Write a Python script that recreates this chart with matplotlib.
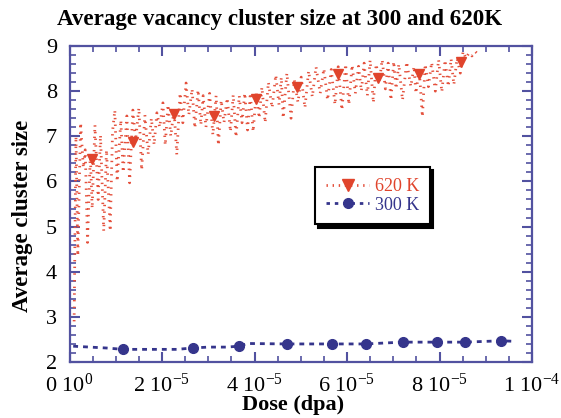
import matplotlib
matplotlib.use("Agg")
import matplotlib.pyplot as plt
import numpy as np
from matplotlib.lines import Line2D
from matplotlib.ticker import MultipleLocator

plt.rcParams['font.family'] = ['Liberation Serif', 'DejaVu Serif']
plt.rcParams['mathtext.fontset'] = 'custom'
plt.rcParams['mathtext.rm'] = 'Liberation Serif'
plt.rcParams['mathtext.it'] = 'Liberation Serif:italic'
plt.rcParams['mathtext.bf'] = 'Liberation Serif:bold'
plt.rcParams['mathtext.default'] = 'rm'
plt.rcParams['lines.scale_dashes'] = False

# ---------------- data (dose in units of 1e-5 dpa) ----------------
# 620 K : noisy trace (alternating local highs / lows)
dose_620 = [0.10, 0.14, 0.18, 0.24, 0.30, 0.34, 0.39, 0.45, 0.49, 0.55,
            0.62, 0.67, 0.74, 0.80, 0.88, 0.93, 0.98, 1.03, 1.11, 1.16,
            1.24, 1.30, 1.37, 1.43, 1.50, 1.56, 1.63, 1.70, 1.77, 1.83,
            1.89, 1.95, 2.02, 2.07, 2.13, 2.19, 2.26, 2.32, 2.39, 2.45,
            2.52, 2.58, 2.65, 2.71, 2.78, 2.84, 2.89, 2.95, 3.03, 3.10,
            3.17, 3.22, 3.28, 3.34, 3.41, 3.48, 3.54, 3.60, 3.67, 3.73,
            3.79, 3.85, 3.91, 3.97, 4.04, 4.10, 4.16, 4.23, 4.30, 4.38,
            4.46, 4.53, 4.58, 4.62, 4.70, 4.79, 4.86, 4.94, 5.01, 5.09,
            5.17, 5.25, 5.33, 5.42, 5.50, 5.58, 5.66, 5.74, 5.81, 5.89,
            5.97, 6.04, 6.11, 6.18, 6.25, 6.31, 6.37, 6.44, 6.50, 6.57,
            6.63, 6.70, 6.76, 6.83, 6.89, 6.95, 7.01, 7.06, 7.12, 7.20,
            7.29, 7.38, 7.45, 7.49, 7.56, 7.63, 7.69, 7.76, 7.83, 7.91,
            7.98, 8.05, 8.12, 8.19, 8.25, 8.31, 8.38, 8.45, 8.51, 8.57,
            8.64, 8.70, 8.77, 8.83]
size_620 = [2.90, 7.00, 4.35, 7.30, 6.30, 6.70, 4.65, 6.60, 5.40, 7.25,
            5.60, 7.03, 4.90, 6.70, 4.90, 7.10, 7.58, 6.00, 7.36, 6.20,
            7.45, 5.97, 7.58, 6.92, 7.63, 6.25, 7.47, 6.60, 7.40, 6.81,
            7.52, 7.20, 7.74, 6.80, 7.70, 7.00, 7.60, 6.59, 7.96, 7.30,
            8.18, 7.47, 8.05, 7.18, 8.03, 7.25, 7.90, 7.20, 7.95, 7.03,
            7.90, 6.80, 7.80, 7.30, 7.85, 7.10, 7.92, 6.98, 7.90, 7.30,
            7.96, 7.14, 7.96, 7.10, 8.00, 7.40, 8.09, 7.30, 8.20, 7.63,
            8.36, 7.70, 8.31, 7.40, 8.40, 7.40, 8.25, 7.75, 8.31, 7.63,
            8.45, 7.87, 8.54, 7.95, 8.50, 7.80, 8.48, 7.70, 8.54, 7.58,
            8.60, 7.70, 8.58, 7.95, 8.55, 8.00, 8.62, 7.90, 8.69, 7.74,
            8.60, 8.20, 8.70, 8.05, 8.62, 7.80, 8.66, 8.05, 8.60, 7.80,
            8.65, 8.10, 8.55, 7.95, 8.51, 7.43, 8.60, 8.10, 8.64, 8.00,
            8.70, 7.98, 8.69, 8.10, 8.72, 8.14, 8.73, 8.40, 8.88, 8.73,
            8.85, 8.78, 8.88, 8.82]
mark_dose_620 = [0.49, 1.38, 2.27, 3.12, 4.03, 4.91, 5.81, 6.68, 7.56, 8.46]
mark_size_620 = [6.49, 6.88, 7.49, 7.45, 7.83, 8.09, 8.37, 8.30, 8.37, 8.64]

# 300 K
dose_300 = [0.08, 0.80, 1.16, 1.60, 2.32, 2.66, 3.00, 3.40, 3.66, 3.85,
            4.70, 5.68, 6.41, 6.80, 7.20, 7.95, 8.55, 9.34, 9.57]
size_300 = [2.35, 2.31, 2.28, 2.28, 2.28, 2.31, 2.33, 2.33, 2.35, 2.41,
            2.40, 2.40, 2.40, 2.42, 2.44, 2.44, 2.44, 2.47, 2.46]
mark_dose_300 = [1.16, 2.66, 3.66, 4.70, 5.68, 6.41, 7.20, 7.95, 8.55, 9.34]
mark_size_300 = [2.28, 2.31, 2.35, 2.40, 2.40, 2.40, 2.44, 2.44, 2.44, 2.47]

xtick_vals = [0, 2, 4, 6, 8, 10]
xtick_labels = ['0 10$^{0}$', '2 10$^{-5}$', '4 10$^{-5}$', '6 10$^{-5}$',
                '8 10$^{-5}$', '1 10$^{-4}$']
ytick_vals = [2, 3, 4, 5, 6, 7, 8, 9]
series_labels = ['620 K', '300 K']

# ---------------- styles ----------------
red_dot = '#e4503c'
red_mark = '#e0442c'
navy = '#35358c'
spine_c = '#5252a0'

fig = plt.figure(figsize=(5.61, 4.18), dpi=100)
ax = fig.add_axes([69.5/561, 1-362/418, (532-69.5)/561, (362-46)/418])

scale = 1e-5
x620 = np.array(dose_620) * scale
x300 = np.array(dose_300) * scale

ax.plot(x620, size_620, color=red_dot, lw=2.0, linestyle=(0, (1.0, 3.8)),
        dash_capstyle='butt', zorder=2)
ax.plot(np.array(mark_dose_620) * scale, mark_size_620, linestyle='none',
        marker='v', ms=7.8, color=red_mark, mec=red_mark, zorder=3)

ax.plot(x300, size_300, color=navy, lw=2.0, linestyle=(0, (3.5, 3.6)),
        dash_capstyle='butt', zorder=2)
ax.plot(np.array(mark_dose_300) * scale, mark_size_300, linestyle='none',
        marker='o', ms=7, color=navy, zorder=3)

ax.set_xlim(0, 1e-4)
ax.set_ylim(2, 9)
ax.set_xticks(np.array(xtick_vals) * scale)
ax.set_xticklabels(xtick_labels)
ax.xaxis.set_minor_locator(MultipleLocator(0.5e-5))
ax.set_yticks(ytick_vals)
ax.yaxis.set_minor_locator(MultipleLocator(0.2))

for s in ax.spines.values():
    s.set_color(spine_c)
    s.set_linewidth(1.6)
ax.tick_params(which='both', direction='in', top=True, right=True,
               color=spine_c, labelcolor='black', labelsize=16)
ax.tick_params(which='major', length=7, width=1.5)
ax.tick_params(which='minor', length=4, width=1.2)
ax.tick_params(axis='y', pad=9)
ax.tick_params(axis='x', pad=8)

ax.set_xlabel('Dose (dpa)', fontsize=16, fontweight='bold')
ax.xaxis.set_label_coords((293-69.5)/462.5, -(405-362)/316, transform=ax.transAxes)
ax.xaxis.label.set_va('center')
ax.set_ylabel('Average cluster size', fontsize=16.5, fontweight='bold')
ax.yaxis.set_label_coords(-(69.5-23)/462.5, (362-215.5)/316, transform=ax.transAxes)
ax.yaxis.label.set_va('center')
fig.text(0.5 * (57 + 503) / 561, 1 - 19/418,
         'Average vacancy cluster size at 300 and 620K',
         ha='center', va='center', fontsize=16.6, fontweight='bold')

h620 = Line2D([], [], color=red_dot, lw=2.0, linestyle=(0, (1.0, 3.4)),
              marker='v', ms=8, mfc=red_mark, mec=red_mark)
h300 = Line2D([], [], color=navy, lw=2.0, linestyle=(0, (2.5, 3.5)),
              marker='o', ms=7, mfc=navy, mec=navy)
leg = ax.legend([h620, h300], series_labels, loc='upper left',
                bbox_to_anchor=((315-69.5)/462.5, (362-167)/316),
                borderaxespad=0, fontsize=13, frameon=True, fancybox=False,
                numpoints=1, handlelength=2.4, handletextpad=0.3,
                labelspacing=0.1, borderpad=0.6,
                shadow={'ox': 2.5, 'oy': -2.5, 'facecolor': 'black',
                        'edgecolor': 'black', 'alpha': 1})
leg.get_frame().set_edgecolor('black')
leg.get_frame().set_linewidth(1.5)
leg.get_texts()[0].set_color(red_mark)
leg.get_texts()[1].set_color(navy)

fig.savefig('out.png', dpi=100)
